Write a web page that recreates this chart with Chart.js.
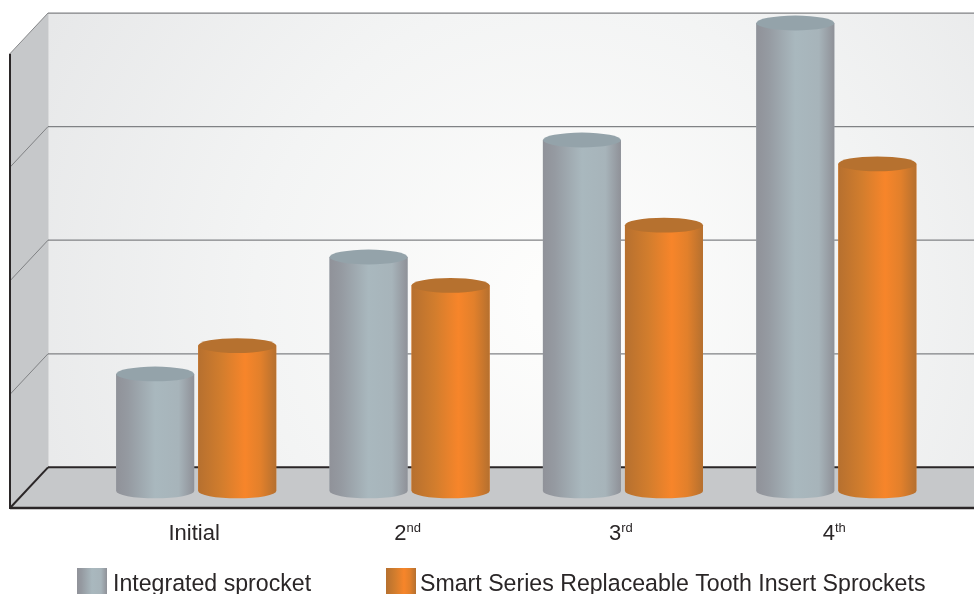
<!DOCTYPE html>
<html>
<head>
<meta charset="utf-8">
<script src="https://cdn.jsdelivr.net/npm/chart.js@4"></script>
<style>
  html, body { margin: 0; padding: 0; background: #fff; overflow: hidden; }
  canvas { display: block; }
</style>
</head>
<body>
<canvas id="chart" width="974" height="594"></canvas>
<script>
const categories = ['Initial', '2nd', '3rd', '4th'];
const integrated = [1.03, 2.06, 3.09, 4.12];
const smartSeries = [1.28, 1.81, 2.34, 2.88];
const wallTicks = [0, 1, 2, 3, 4];
const seriesNames = ['Integrated sprocket', 'Smart Series Replaceable Tooth Insert Sprockets'];

const font = '"Liberation Sans", Arial, sans-serif';
const ink = '#2a2627';

// the back wall and the front axis sit this far from the plane the bars stand on
const backShift = -23.6;
const frontShift = 17;
const wallX = 48, axisX = 10, ry = 7.4;

const looks = [
  { stops: [[0, '#909299'], [0.15, '#959aa1'], [0.5, '#a9b8be'], [0.8, '#a7b4ba'], [1, '#8f9198']], top: '#94a3aa' },
  { stops: [[0, '#b6702f'], [0.3, '#d27d2d'], [0.6, '#f7852a'], [0.8, '#e2802b'], [1, '#b5702f']], top: '#b6712f' }
];

function hGradient(c, x0, x1, stops) {
  const g = c.createLinearGradient(x0, 0, x1, 0);
  stops.forEach(s => g.addColorStop(s[0], s[1]));
  return g;
}

function line(c, x0, y0, x1, y1, color, w) {
  c.strokeStyle = color;
  c.lineWidth = w;
  c.beginPath();
  c.moveTo(x0, y0);
  c.lineTo(x1, y1);
  c.stroke();
}

function poly(c, pts, color) {
  c.fillStyle = color;
  c.beginPath();
  pts.forEach((p, i) => i ? c.lineTo(p[0], p[1]) : c.moveTo(p[0], p[1]));
  c.closePath();
  c.fill();
}

const room = {
  id: 'room',
  beforeDatasetsDraw(chart) {
    const c = chart.ctx, y = chart.scales.y, w = chart.width;
    const back = v => y.getPixelForValue(v) + backShift;
    const front = v => y.getPixelForValue(v) + frontShift;
    const b0 = back(0), b4 = back(4), f0 = front(0), f4 = front(4);
    c.save();
    // back wall
    const g = c.createRadialGradient(560, 300, 30, 560, 300, 580);
    g.addColorStop(0, '#fdfdfc');
    g.addColorStop(0.5, '#f3f4f4');
    g.addColorStop(1, '#e7e8e9');
    c.fillStyle = g;
    c.fillRect(wallX, b4, w - wallX, b0 - b4);
    // side wall and floor
    poly(c, [[axisX, f4], [wallX, b4], [wallX, b0], [axisX, f0]], '#c6c8ca');
    poly(c, [[wallX, b0], [w, b0], [w, f0], [axisX, f0]], '#c6c8ca');
    line(c, wallX + 0.5, b4, wallX + 0.5, b0, '#d9dadb', 1);
    // grid
    wallTicks.forEach(v => {
      if (v > 0) {
        line(c, wallX, back(v), w, back(v), '#808285', 1.2);
        line(c, axisX, front(v), wallX, back(v), '#6d6e71', 0.8);
      }
    });
    // frame
    line(c, wallX, b0, w, b0, ink, 2);
    line(c, axisX, f0, wallX, b0, ink, 2);
    line(c, axisX, f0, w, f0, ink, 2.4);
    line(c, axisX, f4, axisX, f0 + 1, ink, 2);
    c.restore();
  },
  afterDatasetsDraw(chart) {
    const c = chart.ctx;
    c.save();
    chart.data.datasets.forEach((ds, i) => {
      chart.getDatasetMeta(i).data.forEach(bar => {
        const hw = bar.width / 2, x0 = bar.x - hw, x1 = bar.x + hw;
        c.fillStyle = hGradient(c, x0, x1, looks[i].stops);
        c.beginPath();
        c.moveTo(x0, bar.y);
        c.lineTo(x0, bar.base);
        c.ellipse(bar.x, bar.base, hw, ry, 0, Math.PI, 0, true);
        c.lineTo(x1, bar.y);
        c.closePath();
        c.fill();
        c.fillStyle = looks[i].top;
        c.beginPath();
        c.ellipse(bar.x, bar.y, hw, ry, 0, 0, Math.PI * 2);
        c.fill();
      });
    });
    c.restore();
  },
  afterDraw(chart) {
    const c = chart.ctx, x = chart.scales.x;
    c.save();
    c.fillStyle = ink;
    c.textBaseline = 'alphabetic';
    // category labels, the ordinal suffix is set small and raised
    categories.forEach((label, i) => {
      const head = i ? label.slice(0, 1) : label;
      const tail = i ? label.slice(1) : '';
      c.font = '22px ' + font;
      const hw = c.measureText(head).width;
      c.font = '13px ' + font;
      const tw = c.measureText(tail).width;
      const left = x.getPixelForValue(i) - 2 - (hw + tw) / 2;
      c.font = '22px ' + font;
      c.fillText(head, left, 540);
      if (tail) {
        c.font = '13px ' + font;
        c.fillText(tail, left + hw, 532);
      }
    });
    // legend
    const keys = [[77, 30, 113], [386, 30, 420]];
    keys.forEach((k, i) => {
      c.fillStyle = hGradient(c, k[0], k[0] + k[1], looks[i].stops);
      c.fillRect(k[0], 568, k[1], 26);
      c.fillStyle = ink;
      c.font = '23.15px ' + font;
      c.fillText(seriesNames[i], k[2], 591);
    });
    c.restore();
  }
};

new Chart(document.getElementById('chart'), {
  type: 'bar',
  data: {
    labels: categories,
    datasets: [
      { label: seriesNames[0], data: integrated, backgroundColor: '#a6b3b9' },
      { label: seriesNames[1], data: smartSeries, backgroundColor: '#f7852a' }
    ]
  },
  options: {
    responsive: false,
    animation: false,
    events: [],
    categoryPercentage: 0.769,
    barPercentage: 0.951,
    layout: { padding: { left: 89.5, right: 31, top: 13, bottom: 86 } },
    plugins: { legend: { display: false }, tooltip: { enabled: false } },
    scales: {
      x: { display: false },
      y: { display: false, min: -0.15, max: 4.208 }
    }
  },
  plugins: [room]
});
</script>
</body>
</html>
